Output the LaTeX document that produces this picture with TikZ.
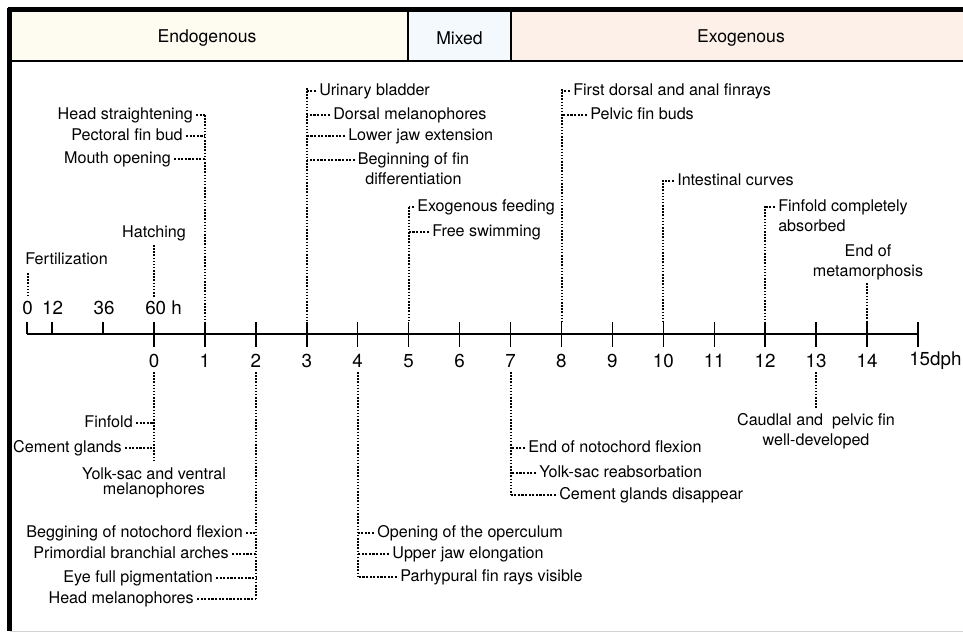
\documentclass[tikz,border=0pt]{standalone}
\usepackage{fontspec}
\setmainfont{TeX Gyre Heros}
\definecolor{endo}{HTML}{FEFBF1}
\definecolor{mixd}{HTML}{F3F9FD}
\definecolor{exo}{HTML}{FDF0E8}
\begin{document}
\begin{tikzpicture}[x=0.75pt,y=-0.75pt,
 lbl/.style={inner xsep=2.25pt, inner ysep=0pt, font=\fontsize{12.1}{15}\selectfont, text height=8.8pt, text depth=2.5pt},
 mlbl/.style={inner sep=0pt, font=\fontsize{12.1}{15}\selectfont},
 num/.style={inner sep=0pt, font=\fontsize{14.1}{16}\selectfont},
 hdr/.style={inner sep=0pt, font=\fontsize{13.2}{16}\selectfont},
 evline/.style={line width=1.05pt, dash pattern=on 1.15pt off 1.2pt},
 conn/.style={line width=1pt, dash pattern=on 1.6pt off 1.1pt},
 axisline/.style={line width=1.1pt},
 tickmark/.style={line width=1.1pt}]
\useasboundingbox (0,0) rectangle (963,633);
% header
\fill[endo] (9.5,10) rectangle (408,61);
\fill[mixd] (408,10) rectangle (511,61);
\fill[exo] (511,10) rectangle (963,61);
\node[hdr] (hEndo) at (207,38) {Endogenous};
\node[hdr] (hMix) at (459.5,38) {Mixed};
\node[hdr] (hExo) at (741,38) {Exogenous};
\draw[line width=1.9pt] (9.5,61) -- (963,61);
\draw[line width=1.9pt] (408,10) -- (408,61);
\draw[line width=1.9pt] (511,10) -- (511,61);
\draw[gray!35, line width=0.75pt] (9.5,631) -- (963,631);
\draw[line width=3.75pt] (7.5,9.5) -- (963,9.5);
\draw[line width=3.3pt] (9.5,7.5) -- (9.5,631);
% axis
\coordinate (ax0) at (27,334);
\coordinate (ax1) at (918,334);
\draw[axisline] (ax0) -- (ax1);
\foreach \x in {27,52,103} \draw[tickmark] (\x,322) -- (\x,334);
\foreach \d in {0,...,15} \draw[tickmark] ({154+50.93*\d},322) -- ({154+50.93*\d},347);
\node[num] (h0) at (27.5,308) {0};
\node[num] (h12) at (52.5,308) {12};
\node[num] (h36) at (104,308) {36};
\node[num, anchor=west] (h60) at (145,308) {60 h};
\foreach \d in {0,...,14} \node[num] (n\d) at ({154+50.93*\d},361) {\d};
\node[num, anchor=west] (n15) at (909,361) {15dph};
% fertilization & hatching
\node[lbl, anchor=west] (fert) at (22,260) {Fertilization};
\coordinate (ft) at (28,273); \coordinate (fb) at (28,295);
\draw[evline] (ft) -- (fb);
\node[lbl] (hatch) at (154,233) {Hatching};
\coordinate (ht) at (154,245); \coordinate (hb) at (154,297);
\draw[evline] (ht) -- (hb);
% day 1
\coordinate (d1t) at (205,115); \coordinate (d1b) at (205,322);
\draw[evline] (d1t) -- (d1b);
\node[lbl, anchor=east] (hs) at (196,115) {Head straightening};
\node[lbl, anchor=east] (pf) at (186,136) {Pectoral fin bud};
\node[lbl, anchor=east] (mo) at (174,159) {Mouth opening};
\foreach \n in {hs,pf,mo} \draw[conn] (\n.east) -- (\n.east -| d1t);
% day 3
\coordinate (d3t) at (307,88); \coordinate (d3b) at (307,322);
\draw[evline] (d3t) -- (d3b);
\node[lbl, anchor=west] (ub) at (316,91) {Urinary bladder};
\node[lbl, anchor=west] (dm) at (330,115) {Dorsal melanophores};
\node[lbl, anchor=west] (lj) at (345,136) {Lower jaw extension};
\node[mlbl, align=center, anchor=north] (bf) at (413.5,152.5) {Beginning of fin\\differentiation};
\coordinate (bfc) at (355,160);
\foreach \n in {ub.west,dm.west,lj.west,bfc} \draw[conn] (\n) -- (\n -| d3t);
% day 5
\coordinate (d5t) at (409,207); \coordinate (d5b) at (409,322);
\draw[evline] (d5t) -- (d5b);
\node[lbl, anchor=west] (ef) at (414,207) {Exogenous feeding};
\node[lbl, anchor=west] (fs) at (429,232) {Free swimming};
\foreach \n in {ef,fs} \draw[conn] (\n.west) -- (\n.west -| d5t);
% day 8
\coordinate (d8t) at (562,89); \coordinate (d8b) at (562,322);
\draw[evline] (d8t) -- (d8b);
\node[lbl, anchor=west] (fd) at (570,91) {First dorsal and anal finrays};
\node[lbl, anchor=west] (pb) at (587,115) {Pelvic fin buds};
\foreach \n in {fd,pb} \draw[conn] (\n.west) -- (\n.west -| d8t);
% day 10
\coordinate (d10t) at (663,180); \coordinate (d10b) at (663,322);
\draw[evline] (d10t) -- (d10b);
\node[lbl, anchor=west] (ic) at (674,181) {Intestinal curves};
\draw[conn] (ic.west) -- (ic.west -| d10t);
% day 12
\coordinate (d12t) at (765,206); \coordinate (d12b) at (765,322);
\draw[evline] (d12t) -- (d12b);
\node[mlbl, align=left, anchor=north west] (fc) at (778,199.5) {Finfold completely\\absorbed};
\coordinate (fcc) at (775,207);
\draw[conn] (fcc) -- (fcc -| d12t);
% day 14
\node[mlbl, align=center, anchor=north] (eom) at (868,244.5) {End of\\metamorphosis};
\coordinate (d14t) at (867,283); \coordinate (d14b) at (867,322);
\draw[evline] (d14t) -- (d14b);
% below: day 0
\coordinate (e0t) at (154,372); \coordinate (e0b) at (154,462);
\draw[evline] (e0t) -- (e0b);
\node[lbl, anchor=east] (ff) at (136,423) {Finfold};
\node[lbl, anchor=east] (cg) at (125,448) {Cement glands};
\foreach \n in {ff,cg} \draw[conn] (\n.east) -- (\n.east -| e0t);
\node[inner sep=0pt, font=\fontsize{12.1}{11.3}\selectfont, align=center, anchor=north] (ys) at (154,467.5) {Yolk-sac and ventral\\melanophores};
% day 2
\coordinate (e2t) at (256,372); \coordinate (e2b) at (256,600);
\draw[evline] (e2t) -- (e2b);
\node[lbl, anchor=east] (bn) at (246,533) {Beggining of notochord flexion};
\node[lbl, anchor=east] (pa) at (232,554) {Primordial branchial arches};
\node[lbl, anchor=east] (ep) at (216,578) {Eye full pigmentation};
\node[lbl, anchor=east] (hm) at (197,599) {Head melanophores};
\foreach \n in {bn,pa,ep,hm} \draw[conn] (\n.east) -- (\n.east -| e2t);
% day 4
\coordinate (e4t) at (358,372); \coordinate (e4b) at (358,577);
\draw[evline] (e4t) -- (e4b);
\node[lbl, anchor=west] (oo) at (374,533) {Opening of the operculum};
\node[lbl, anchor=west] (uj) at (389,554) {Upper jaw elongation};
\node[lbl, anchor=west] (pr) at (397,577) {Parhypural fin rays visible};
\foreach \n in {oo,uj,pr} \draw[conn] (\n.west) -- (\n.west -| e4t);
% day 7
\coordinate (e7t) at (511,372); \coordinate (e7b) at (511,495);
\draw[evline] (e7t) -- (e7b);
\node[lbl, anchor=west] (en) at (525,448) {End of notochord flexion};
\node[lbl, anchor=west] (yr) at (536,473) {Yolk-sac reabsorbation};
\node[lbl, anchor=west] (cd) at (556,495) {Cement glands disappear};
\foreach \n in {en,yr,cd} \draw[conn] (\n.west) -- (\n.west -| e7t);
% day 13
\coordinate (e13t) at (816,372); \coordinate (e13b) at (816,408);
\draw[evline] (e13t) -- (e13b);
\node[mlbl, align=center, anchor=north] (cp) at (816,413.5) {Caudlal and\ \ pelvic fin\\well-developed};
\end{tikzpicture}
\end{document}
